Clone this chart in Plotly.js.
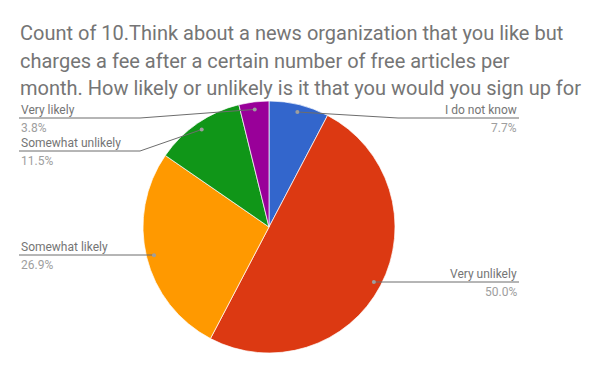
<!DOCTYPE html>
<html>
<head>
<meta charset="utf-8">
<script src="https://cdn.plot.ly/plotly-3.0.1.min.js"></script>
<style>html,body{margin:0;padding:0;background:#fff;}#chart{width:600px;height:371px;}</style>
</head>
<body>
<div id="chart"></div>
<script>
// ---- data ----
const categories = ["I do not know", "Very unlikely", "Somewhat likely", "Somewhat unlikely", "Very likely"];
const counts = [2, 13, 7, 3, 1];
const colors = ["#3366cc", "#dc3912", "#ff9900", "#109618", "#990099"];
const titleLines = [
  "Count of 10.Think about a news organization that you like but",
  "charges a fee after a certain number of free articles per",
  "month. How likely or unlikely is it that you would you sign up for"
];

// ---- layout constants ----
const W = 600, H = 371;
const CX = 269, CY = 227, R = 126;        // pie centre / radius in px
const labelLineY = [118, 282, 255, 151, 118]; // leader-line rows (layout)
const leftX = 19, rightX = 519;
const titleY0 = 33, titleStep = 27.5;

const total = counts.reduce((a, b) => a + b, 0);
const px = x => x / W;
const py = y => 1 - y / H;

const shapes = [];
const annotations = [];
titleLines.forEach((t, i) => {
  annotations.push({xref: "paper", yref: "paper", x: px(18), y: py(titleY0 + i * titleStep),
    xanchor: "left", yanchor: "middle", showarrow: false, text: t,
    font: {family: "Roboto, sans-serif", size: 20, color: "#757575"}});
});
let cum = 0;
counts.forEach((c, i) => {
  const frac = c / total;
  const mid = (cum + frac / 2) * 2 * Math.PI; // clockwise from 12 o'clock
  cum += frac;
  const rd = R * 0.94;
  const dx = CX + rd * Math.sin(mid);
  const dy = CY - rd * Math.cos(mid);
  const right = dx > CX;
  const ly = labelLineY[i];
  const endX = right ? rightX : leftX;
  const kneeX = right ? CX + R + 3 : CX - R - 3;
  let path;
  if (Math.abs(ly - dy) < 1.5) {
    path = `M ${px(endX)},${py(ly)} L ${px(dx)},${py(ly)}`;
  } else {
    path = `M ${px(endX)},${py(ly)} L ${px(kneeX)},${py(ly)} L ${px(dx)},${py(dy)}`;
  }
  shapes.push({type: "path", xref: "paper", yref: "paper", path: path,
    line: {color: "#6d6d6d", width: 1}});
  shapes.push({type: "circle", xref: "paper", yref: "paper",
    x0: px(dx - 2), x1: px(dx + 2), y0: py(dy - 2), y1: py(dy + 2),
    fillcolor: "#9e9e9e", line: {width: 0}});
  const pct = (frac * 100).toFixed(1) + "%";
  annotations.push({xref: "paper", yref: "paper", x: px(endX), y: py(ly - 8),
    xanchor: right ? "right" : "left", yanchor: "middle", showarrow: false,
    text: categories[i], font: {family: "Roboto, sans-serif", size: 12, color: "#757575"}});
  annotations.push({xref: "paper", yref: "paper", x: px(endX), y: py(ly + 10),
    xanchor: right ? "right" : "left", yanchor: "middle", showarrow: false,
    text: pct, font: {family: "Roboto, sans-serif", size: 12, color: "#9e9e9e"}});
});

const trace = {
  type: "pie",
  labels: categories,
  values: counts,
  sort: false,
  direction: "clockwise",
  rotation: 0,
  textinfo: "none",
  hoverinfo: "label+percent",
  marker: {colors: colors, line: {color: "#ffffff", width: 0.7}},
  domain: {x: [px(CX - R), px(CX + R)], y: [py(CY + R), py(CY - R)]},
  showlegend: false
};

const layout = {
  width: W, height: H,
  margin: {l: 0, r: 0, t: 0, b: 0},
  paper_bgcolor: "#ffffff",
  showlegend: false,
  shapes: shapes,
  annotations: annotations
};

Plotly.newPlot("chart", [trace], layout, {displayModeBar: false, staticPlot: true});
</script>
</body>
</html>
